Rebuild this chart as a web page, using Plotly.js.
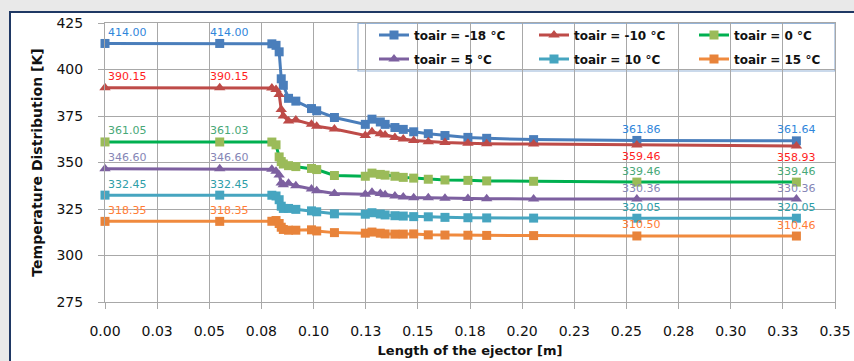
<!DOCTYPE html>
<html>
<head>
<meta charset="utf-8">
<script src="https://cdn.plot.ly/plotly-3.0.1.min.js"></script>
<style>html,body{margin:0;padding:0;background:#fff;}#chart{width:854px;height:361px;}</style>
</head>
<body>
<div id="chart"></div>
<script>
// ---- data ----
const xs = [0, 0.055, 0.080, 0.082, 0.0835, 0.0845, 0.0855, 0.088, 0.0915, 0.099, 0.1015, 0.110,
            0.1248, 0.128, 0.132, 0.1343, 0.139, 0.143, 0.148, 0.155, 0.163, 0.174, 0.183, 0.2055, 0.255, 0.3315];
const tM18 = [414.00, 414.00, 413.8, 413.0, 409.5, 395.0, 391.5, 384.5, 383.0, 379.0, 377.8, 374.2,
              370.5, 373.3, 371.8, 370.5, 368.8, 367.8, 366.5, 365.5, 364.5, 363.5, 363.0, 362.3, 361.86, 361.64];
const tM10 = [390.15, 390.15, 390.1, 389.3, 386.5, 378.5, 375.0, 372.3, 372.8, 370.5, 369.5, 368.0,
              364.5, 366.5, 365.5, 364.8, 363.4, 362.6, 361.8, 361.2, 360.8, 360.4, 360.1, 359.9, 359.46, 358.93];
const t0   = [361.05, 361.03, 361.0, 359.5, 353.0, 350.5, 349.2, 348.3, 347.8, 346.8, 346.2, 343.0,
              342.6, 344.3, 343.6, 343.2, 342.6, 342.0, 341.6, 341.0, 340.6, 340.4, 340.1, 339.9, 339.46, 339.46];
const t5   = [346.60, 346.60, 346.4, 345.3, 343.3, 339.0, 338.0, 338.8, 337.5, 335.8, 334.8, 333.3,
              332.9, 334.0, 333.3, 332.6, 332.0, 331.5, 331.0, 331.0, 330.8, 330.6, 330.5, 330.4, 330.36, 330.36];
const t10  = [332.45, 332.45, 332.4, 332.0, 330.0, 326.5, 325.3, 325.3, 324.8, 324.0, 323.5, 322.4,
              322.2, 323.0, 322.3, 321.8, 321.4, 321.2, 320.9, 320.8, 320.5, 320.3, 320.2, 320.1, 320.05, 320.05];
const t15  = [318.35, 318.35, 318.4, 318.8, 317.2, 315.2, 314.0, 313.6, 313.6, 313.8, 313.2, 312.3,
              312.0, 312.6, 312.0, 311.6, 311.5, 311.5, 311.6, 311.1, 311.0, 310.9, 310.8, 310.7, 310.50, 310.46];
const seriesNames = ['toair = -18 °C', 'toair = -10 °C', 'toair = 0 °C', 'toair = 5 °C', 'toair = 10 °C', 'toair = 15 °C'];
const labelIdx = [0, 1, 24, 25];
const xTickVals = [0, 0.025, 0.05, 0.075, 0.1, 0.125, 0.15, 0.175, 0.2, 0.225, 0.25, 0.275, 0.3, 0.325, 0.35];
const xTickLabels = ['0.00','0.03','0.05','0.08','0.10','0.13','0.15','0.18','0.20','0.23','0.25','0.28','0.30','0.33','0.35'];
const yTickVals = [275, 300, 325, 350, 375, 400, 425];

// ---- styles ----
const seriesData = [tM18, tM10, t0, t5, t10, t15];
const lineColors   = ['#4A7EBB', '#BE4B48', '#00B050', '#7D60A0', '#46A5C0', '#F08A3E'];
const markerColors = ['#4A7EBB', '#BE4B48', '#9BBB59', '#7D60A0', '#46A5C0', '#E8833A'];
const labelColors  = ['#2F86DB', '#FF1E1E', '#48A878', '#8686B6', '#2E9EA8', '#FF7C35'];
const symbols = ['square', 'triangle-up', 'square', 'triangle-up', 'square', 'square'];
const legendOf = ['legend', 'legend', 'legend', 'legend2', 'legend2', 'legend2'];

const traces = seriesData.map((ys, i) => ({
  type: 'scatter', mode: 'lines+markers', x: xs, y: ys, name: seriesNames[i],
  legend: legendOf[i], cliponaxis: false,
  line: {color: lineColors[i], width: 3},
  marker: {symbol: symbols[i], color: markerColors[i], size: symbols[i] === 'square' ? 9 : 10}
}));

const xShifts = {0: 22, 1: 10, 24: 5, 25: 0};
const annotations = [];
seriesData.forEach((ys, i) => {
  labelIdx.forEach(k => {
    const below = (i === 1 && k >= 24);
    annotations.push({
      x: xs[k], y: ys[k], xref: 'x', yref: 'y', text: ys[k].toFixed(2), showarrow: false,
      xshift: xShifts[k], yshift: below ? -12 : 11,
      font: {family: 'DejaVu Sans', size: 11, color: labelColors[i]}
    });
  });
});

const L = 105, T = 23, W = 730, H = 279;
const px = v => (v - L) / W;
const py = v => 1 - (v - T) / H;

const legendCommon = {
  orientation: 'h', x: px(374), xanchor: 'left', yanchor: 'middle',
  entrywidth: 115, entrywidthmode: 'pixels', bgcolor: 'rgba(0,0,0,0)', borderwidth: 0,
  font: {family: 'DejaVu Sans', size: 12, weight: 'bold', color: '#111'}
};

const layout = {
  width: 854, height: 361,
  margin: {l: L, r: 854 - L - W, t: T, b: 361 - T - H, autoexpand: false},
  paper_bgcolor: '#E9E9E9', plot_bgcolor: '#FFFFFF',
  font: {family: 'DejaVu Sans', color: '#000'},
  showlegend: true,
  xaxis: {
    range: [0, 0.35], tickvals: xTickVals, ticktext: xTickLabels,
    showgrid: true, gridcolor: '#A8A8A8', gridwidth: 1, zeroline: false,
    showline: true, linecolor: '#A8A8A8', mirror: true,
    ticks: 'outside', ticklen: 6, tickcolor: '#A8A8A8', ticklabelstandoff: 10,
    tickfont: {family: 'DejaVu Sans', size: 14, color: '#111'},
    title: {text: 'Length of the ejector [m]', standoff: 8, font: {family: 'DejaVu Sans', size: 13, weight: 'bold', color: '#111'}}
  },
  yaxis: {
    range: [275, 425], tickvals: yTickVals,
    showgrid: true, gridcolor: '#A8A8A8', gridwidth: 1, zeroline: false,
    showline: true, linecolor: '#A8A8A8', mirror: true,
    ticks: 'outside', ticklen: 6, tickcolor: '#A8A8A8', ticklabelstandoff: 12,
    tickfont: {family: 'DejaVu Sans', size: 14, color: '#111'},
    title: {text: 'Temperature Distribution [K]', standoff: 10, font: {family: 'DejaVu Sans', size: 14, weight: 'bold', color: '#111'}}
  },
  legend: Object.assign({}, legendCommon, {y: py(35)}),
  legend2: Object.assign({}, legendCommon, {y: py(59)}),
  shapes: [
    {type: 'rect', xref: 'paper', yref: 'paper', layer: 'below',
     x0: px(10), x1: px(900), y0: py(400), y1: py(12),
     fillcolor: '#FFFFFF', line: {color: '#1F3864', width: 2}},
    {type: 'rect', xref: 'paper', yref: 'paper', layer: 'between',
     x0: px(358), x1: px(835), y0: py(71), y1: py(23.5),
     fillcolor: '#FFFFFF', line: {color: '#95B3D7', width: 1.2}}
  ],
  annotations: annotations
};

Plotly.newPlot('chart', traces, layout, {displayModeBar: false, staticPlot: true});
</script>
</body>
</html>
